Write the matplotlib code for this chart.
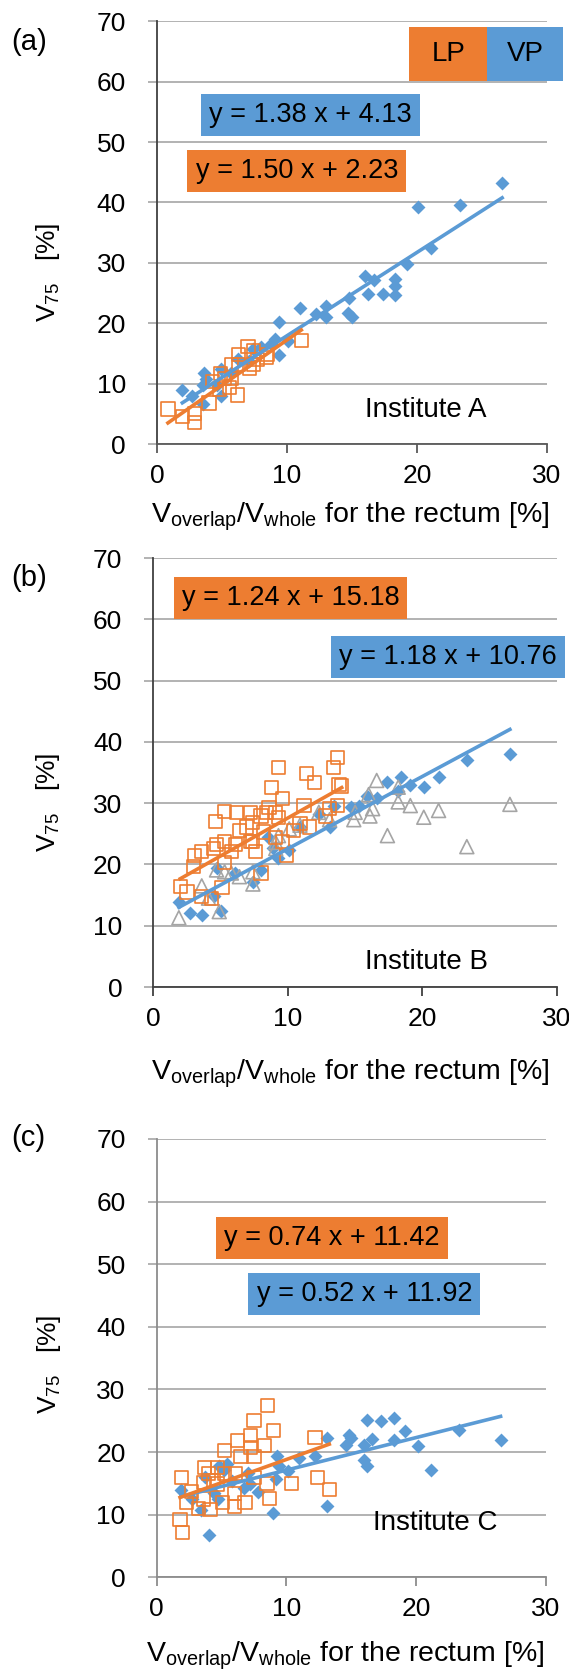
import matplotlib
matplotlib.use("Agg")
import matplotlib.pyplot as plt
from matplotlib.patches import Rectangle
import numpy as np

plt.rcParams['font.family'] = ['Liberation Sans', 'DejaVu Sans']

BLUE = '#5B9BD5'
ORANGE = '#ED7D31'
GRAY = '#A5A5A5'

# ---- panel (a), Institute A ----
a_vp_x = [26.55, 20.1, 23.3, 21.1, 19.2, 16.0, 16.7, 16.2, 17.4, 18.3, 18.3, 18.3, 14.8, 14.7, 15.0,
          13.0, 13.0, 12.2, 11.0, 9.4, 9.1, 8.8, 9.4, 10.1, 7.4, 6.2, 4.9, 3.6, 3.8, 3.5, 1.95, 2.7,
          3.5, 4.9, 5.7, 7.1, 8.0, 4.6]
a_vp_y = [43.3, 39.3, 39.6, 32.5, 29.8, 27.9, 27.1, 24.8, 24.8, 27.4, 26.2, 24.6, 24.2, 21.7, 21.1,
          22.8, 21.1, 21.6, 22.6, 20.2, 17.4, 16.5, 14.8, 17.1, 15.7, 14.0, 12.5, 11.7, 10.8, 9.7, 8.95, 8.0,
          6.6, 8.0, 11.7, 13.7, 16.0, 9.7]
a_lp_x = [0.84, 1.96, 2.9, 2.9, 4.0, 4.3, 4.9, 4.8, 5.6, 5.7, 6.2, 5.7, 6.3, 7.0, 7.4, 7.1, 7.4, 7.7,
          8.4, 8.5, 11.1, 6.3, 5.2]
a_lp_y = [5.8, 4.6, 3.5, 5.1, 6.8, 10.3, 11.7, 9.1, 9.4, 10.8, 8.1, 13.1, 14.8, 16.2, 15.4, 12.5, 13.1, 14.0,
          14.3, 14.8, 17.1, 13.1, 10.8]

# ---- panel (b), Institute B ----
b_vp_x = [26.5, 23.3, 21.2, 20.1, 19.1, 18.4, 17.4, 15.9, 16.6, 14.7, 15.3, 18.2, 12.3, 13.1, 10.1,
          9.3, 8.9, 8.5, 7.4, 8.0, 4.7, 5.0, 3.6, 2.7, 1.9, 4.5, 6.1, 10.9, 13.4]
b_vp_y = [38.1, 37.0, 34.2, 32.7, 33.0, 34.2, 33.5, 31.1, 30.8, 29.3, 29.6, 32.0, 28.2, 26.1, 22.3,
          21.0, 22.6, 24.4, 17.1, 19.1, 19.4, 12.4, 11.8, 12.1, 13.9, 14.8, 18.6, 26.1, 29.6]
b_lp_x = [2.0, 2.5, 3.05, 3.0, 3.6, 4.3, 4.5, 4.7, 4.6, 5.3, 5.1, 5.3, 5.8, 6.2, 6.4, 6.9, 7.2, 7.4,
          7.6, 8.0, 8.0, 8.8, 9.3, 8.6, 9.1, 9.6, 9.9, 10.4, 10.9, 11.4, 12.0, 11.6, 11.2, 12.8, 13.4,
          13.7, 13.8, 14.0, 13.7, 13.1, 9.3, 8.2, 6.1, 9.1, 9.6, 7.2, 5.3, 3.6, 7.4, 8.4]
b_lp_y = [16.4, 15.5, 21.5, 19.7, 14.8, 14.5, 22.6, 23.2, 27.0, 28.6, 16.2, 20.3, 22.1, 28.5, 25.6,
          26.1, 28.5, 23.8, 22.1, 18.6, 27.9, 32.6, 35.8, 29.3, 28.5, 30.8, 21.5, 25.6, 26.7, 34.9, 33.4,
          26.1, 29.6, 27.9, 35.8, 37.4, 33.1, 32.8, 29.6, 29.1, 27.6, 25.3, 23.2, 24.4, 23.8, 23.8, 23.8,
          22.1, 26.9, 28.5]
b_ref_x = [1.9, 3.6, 4.9, 4.1, 5.8, 6.4, 7.4, 7.4, 9.1, 9.3, 9.1, 10.1, 10.9, 12.3, 13.1, 14.9, 15.0,
           16.1, 16.0, 16.6, 16.3, 17.4, 18.2, 18.2, 19.1, 20.1, 21.2, 23.3, 26.5, 4.7, 5.3]
b_ref_y = [11.3, 16.5, 12.3, 14.5, 18.6, 18.0, 16.8, 18.8, 22.6, 24.7, 23.6, 25.8, 26.4, 28.5, 27.3,
           27.3, 28.5, 27.9, 31.4, 33.7, 29.1, 24.7, 30.2, 32.6, 29.6, 27.7, 28.8, 22.9, 29.8, 19.1, 18.8]

# ---- panel (c), Institute C ----
c_vp_x = [26.5, 23.3, 21.1, 20.1, 19.1, 18.3, 18.3, 17.3, 16.2, 16.6, 16.0, 16.0, 16.2, 14.8, 15.0,
          14.6, 13.1, 13.1, 12.2, 11.0, 10.1, 9.3, 9.4, 9.2, 9.0, 7.8, 7.2, 6.7, 5.8, 5.2, 4.8, 4.4,
          4.0, 3.7, 3.4, 2.7, 1.9, 4.7, 7.0, 5.4]
c_vp_y = [21.9, 23.6, 17.1, 21.0, 23.3, 25.5, 22.0, 25.0, 25.1, 22.1, 21.1, 18.8, 17.8, 22.7, 22.3,
          21.1, 22.2, 11.4, 19.3, 19.0, 16.9, 19.3, 17.8, 15.7, 10.2, 13.7, 14.9, 14.3, 15.4, 17.2, 17.8,
          13.4, 6.8, 16.0, 10.7, 12.5, 14.0, 12.5, 16.6, 18.1]
c_lp_x = [8.55, 7.5, 9.0, 7.2, 8.3, 12.2, 6.2, 5.25, 7.2, 6.5, 7.5, 3.7, 1.9, 4.0, 4.7, 5.25, 6.1, 7.5,
          8.5, 8.7, 10.4, 12.4, 13.3, 6.8, 6.0, 6.0, 5.1, 4.1, 3.6, 2.7, 2.3, 1.8, 2.0, 3.2, 4.7, 4.4, 3.6]
c_lp_y = [27.5, 25.0, 23.5, 22.6, 21.1, 22.3, 21.9, 20.2, 20.7, 19.3, 19.3, 17.5, 16.0, 16.6, 17.5,
          16.6, 16.6, 16.0, 15.0, 12.6, 15.0, 16.0, 14.0, 11.9, 11.3, 13.4, 11.9, 10.8, 12.5, 13.7, 11.9,
          9.2, 7.1, 11.0, 14.9, 15.4, 15.2]

# regression lines (slope, intercept) as printed on the chart
fits = {
    'a': {'vp': (1.38, 4.13), 'lp': (1.50, 2.23)},
    'b': {'vp': (1.18, 10.76), 'lp': (1.24, 15.18)},
    'c': {'vp': (0.52, 11.92), 'lp': (0.74, 11.42)},
}

W, H = 569, 1673
fig = plt.figure(figsize=(W / 100, H / 100), dpi=100)


def rect(x0, x1, y_top, y_bot):
    # pixel box -> figure fraction
    return [x0 / W, 1 - y_bot / H, (x1 - x0) / W, (y_bot - y_top) / H]


panels = [
    dict(key='a', rect=rect(157, 547, 21.3, 444), vp=(a_vp_x, a_vp_y), lp=(a_lp_x, a_lp_y), ref=None,
         name='Institute A', name_xy=(20.7, 5.7), spine='#404040', xspine='#595959',
         lp_box=(10.75, 45.2), vp_box=(11.8, 54.5), letter_y=42,
         ylab=(-0.279, 0.407), xlab=(0.495, -0.171)),
    dict(key='b', rect=rect(153.3, 557, 558, 987), vp=(b_vp_x, b_vp_y), lp=(b_lp_x, b_lp_y),
         ref=(b_ref_x, b_ref_y), name='Institute B', name_xy=(20.3, 4.0), spine='#404040', xspine='#404040',
         lp_box=(10.2, 63.5), vp_box=(21.9, 53.85), letter_y=578,
         ylab=(-0.261, 0.43), xlab=(0.487, -0.2025)),
    dict(key='c', rect=rect(156.7, 546, 1139, 1577.3), vp=(c_vp_x, c_vp_y), lp=(c_lp_x, c_lp_y), ref=None,
         name='Institute C', name_xy=(21.5, 8.6), spine='#8C8C8C', xspine='#8C8C8C',
         lp_box=(13.5, 54.2), vp_box=(16.0, 45.2), letter_y=1138,
         ylab=(-0.277, 0.486), xlab=(0.485, -0.179)),
]

for p in panels:
    ax = fig.add_axes(p['rect'])
    ax.set_xlim(0, 30)
    ax.set_ylim(0, 70)
    ax.set_xticks([0, 10, 20, 30])
    ax.set_yticks(range(0, 80, 10))
    ax.yaxis.grid(True, color='#A6A6A6', linewidth=1.2)
    ax.set_axisbelow(True)
    for s in ['top', 'right']:
        ax.spines[s].set_visible(False)
    ax.spines['left'].set_color(p['spine'])
    ax.spines['bottom'].set_color(p['xspine'])
    ax.spines['left'].set_linewidth(1.3)
    ax.spines['bottom'].set_linewidth(1.3)
    ax.tick_params(axis='y', length=6.3, width=1.2, color='#A6A6A6', labelsize=19, pad=16)
    ax.tick_params(axis='x', length=6.3, width=1.3, color=p['xspine'], labelsize=19, pad=8)

    vx, vy = p['vp']
    lx, ly = p['lp']
    ax.scatter(vx, vy, marker='D', s=7.1 ** 2, color=BLUE, zorder=3, linewidths=0)
    if p['ref'] is not None:
        rx, ry = p['ref']
        ax.scatter(rx, ry, marker='^', s=10 ** 2, facecolors='none', edgecolors=GRAY, linewidths=1.2, zorder=3)
    ax.scatter(lx, ly, marker='s', s=9.5 ** 2, facecolors='none', edgecolors=ORANGE, linewidths=1.2, zorder=4)

    f = fits[p['key']]
    xs = np.array([min(vx), max(vx)])
    ax.plot(xs, f['vp'][0] * xs + f['vp'][1], color=BLUE, lw=2.6, zorder=5)
    xs = np.array([min(lx), max(lx)])
    ax.plot(xs, f['lp'][0] * xs + f['lp'][1], color=ORANGE, lw=2.6, zorder=6)

    box = dict(boxstyle='square,pad=0.3', ec='none')
    ax.text(*p['lp_box'], 'y = %.2f x + %.2f' % f['lp'], fontsize=19.5, ha='center', va='center',
            bbox=dict(box, fc=ORANGE), zorder=7, clip_on=False)
    ax.text(*p['vp_box'], 'y = %.2f x + %.2f' % f['vp'], fontsize=19.5, ha='center', va='center',
            bbox=dict(box, fc=BLUE), zorder=7, clip_on=False)

    ax.text(*p['name_xy'], p['name'], fontsize=20, ha='center', va='center', zorder=7)

    ax.set_ylabel(r'V$_\mathregular{75}$   [%]', fontsize=19)
    ax.yaxis.set_label_coords(*p['ylab'])
    ax.yaxis.label.set_va('center')
    ax.set_xlabel(r'V$_\mathregular{overlap}$/V$_\mathregular{whole}$ for the rectum [%]', fontsize=20.5)
    ax.xaxis.set_label_coords(*p['xlab'])
    ax.xaxis.label.set_va('center')

    fig.text(11 / W, 1 - p['letter_y'] / H, '(%s)' % p['key'], fontsize=21, ha='left', va='center')

    if p['key'] == 'a':
        # LP / VP colour key
        ax.add_patch(Rectangle((19.4, 60.1), 5.95, 9.0, fc=ORANGE, ec='none', clip_on=False, zorder=7))
        ax.add_patch(Rectangle((25.35, 60.1), 5.9, 9.0, fc=BLUE, ec='none', clip_on=False, zorder=7))
        ax.text(22.4, 64.6, 'LP', fontsize=20, ha='center', va='center', zorder=8)
        ax.text(28.3, 64.6, 'VP', fontsize=20, ha='center', va='center', zorder=8, clip_on=False)

fig.savefig('out.png', dpi=100)
